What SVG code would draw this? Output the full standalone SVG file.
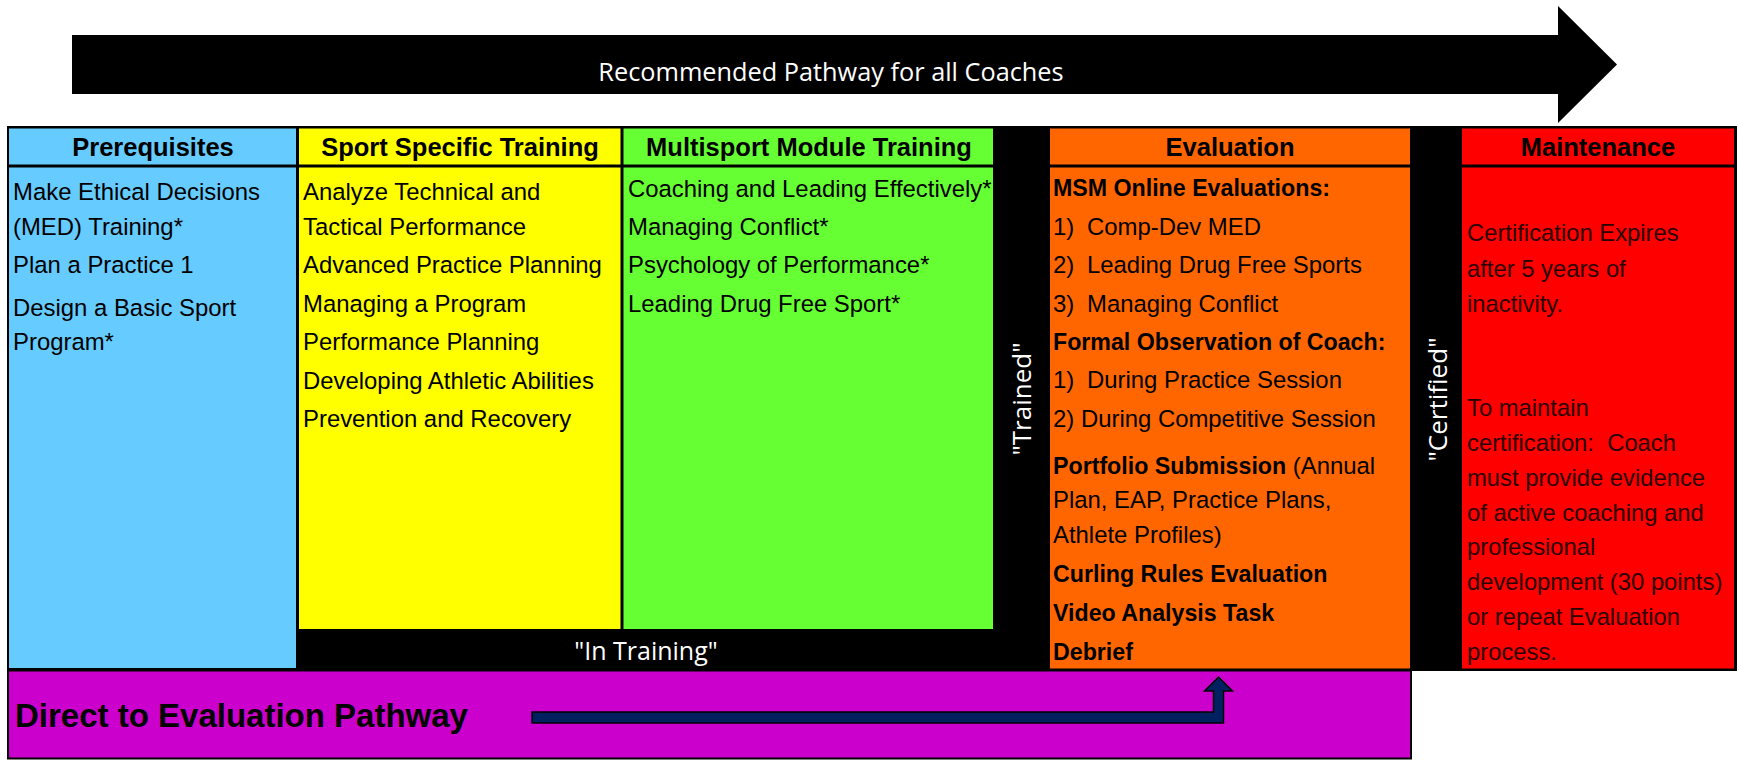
<svg xmlns="http://www.w3.org/2000/svg" width="1739" height="760" viewBox="0 0 1739 760">
<style>
.hd{font-family:"Liberation Sans",Arial,sans-serif;font-weight:bold;font-size:25.5px;fill:#000;text-anchor:middle}
.bd{font-family:"Liberation Sans",Arial,sans-serif;font-size:23.9px;fill:#000}
.bb{font-family:"Liberation Sans",Arial,sans-serif;font-size:23.2px;font-weight:bold;fill:#000}
.mt{font-family:"Liberation Sans",Arial,sans-serif;font-size:23.8px;fill:#2a0000}
.wt{font-family:"Open Sans","Liberation Sans",sans-serif;fill:#fff;text-anchor:middle}
</style>
<rect width="1739" height="760" fill="#fff"/>
<g id="pathway-arrow">
<polygon points="72,35 1558,35 1558,6 1617,64.5 1558,123 1558,94 72,94" fill="#000"/>
<text class="wt" x="831" y="80.5" font-size="25.3">Recommended Pathway for all Coaches</text>
</g>
<g id="frame">
<rect x="7" y="126" width="1730" height="545" fill="#000"/>
</g>
<g id="prerequisites">
<rect x="9" y="128.5" width="287" height="36" fill="#66CCFF"/>
<rect x="9" y="167.5" width="287" height="500.5" fill="#66CCFF"/>
<text class="hd" x="153" y="156">Prerequisites</text>
<text class="bd" x="13" y="200">Make Ethical Decisions</text>
<text class="bd" x="13" y="234.5">(MED) Training*</text>
<text class="bd" x="13" y="273">Plan a Practice 1</text>
<text class="bd" x="13" y="315.5">Design a Basic Sport</text>
<text class="bd" x="13" y="350">Program*</text>
</g>
<g id="sport-specific">
<rect x="299" y="128.5" width="321.5" height="36" fill="#FFFF00"/>
<rect x="299" y="167.5" width="321.5" height="461.5" fill="#FFFF00"/>
<text class="hd" x="460" y="156">Sport Specific Training</text>
<text class="bd" x="303" y="200">Analyze Technical and</text>
<text class="bd" x="303" y="234.5">Tactical Performance</text>
<text class="bd" x="303" y="273">Advanced Practice Planning</text>
<text class="bd" x="303" y="311.5">Managing a Program</text>
<text class="bd" x="303" y="350">Performance Planning</text>
<text class="bd" x="303" y="388.5">Developing Athletic Abilities</text>
<text class="bd" x="303" y="427">Prevention and Recovery</text>
</g>
<g id="multisport">
<rect x="623.5" y="128.5" width="369.5" height="36" fill="#66FF33"/>
<rect x="623.5" y="167.5" width="369.5" height="461.5" fill="#66FF33"/>
<text class="hd" x="809" y="156">Multisport Module Training</text>
<text class="bd" x="628" y="197">Coaching and Leading Effectively*</text>
<text class="bd" x="628" y="235">Managing Conflict*</text>
<text class="bd" x="628" y="273">Psychology of Performance*</text>
<text class="bd" x="628" y="312">Leading Drug Free Sport*</text>
</g>
<g id="in-training">
<text class="wt" x="646" y="660" font-size="25">"In Training"</text>
</g>
<g id="trained">
<text class="wt" font-size="26" transform="translate(1031,399) rotate(-90)">"Trained"</text>
</g>
<g id="evaluation">
<rect x="1050" y="128.5" width="360" height="36" fill="#FF6600"/>
<rect x="1050" y="167.5" width="360" height="501" fill="#FF6600"/>
<text class="hd" x="1230" y="156">Evaluation</text>
<text class="bb" x="1053" y="196">MSM Online Evaluations:</text>
<text class="bd" x="1053" y="235">1)<tspan x="1087">Comp-Dev MED</tspan></text>
<text class="bd" x="1053" y="273">2)<tspan x="1087">Leading Drug Free Sports</tspan></text>
<text class="bd" x="1053" y="312">3)<tspan x="1087">Managing Conflict</tspan></text>
<text class="bb" x="1053" y="350">Formal Observation of Coach:</text>
<text class="bd" x="1053" y="388">1)<tspan x="1087">During Practice Session</tspan></text>
<text class="bd" x="1053" y="427">2) During Competitive Session</text>
<text class="bd" x="1053" y="474"><tspan font-weight="bold" font-size="23.2">Portfolio Submission</tspan> (Annual</text>
<text class="bd" x="1053" y="508">Plan, EAP, Practice Plans,</text>
<text class="bd" x="1053" y="543">Athlete Profiles)</text>
<text class="bb" x="1053" y="582">Curling Rules Evaluation</text>
<text class="bb" x="1053" y="621">Video Analysis Task</text>
<text class="bb" x="1053" y="660">Debrief</text>
</g>
<g id="certified">
<text class="wt" font-size="26" transform="translate(1447,399.5) rotate(-90)">"Certified"</text>
</g>
<g id="maintenance">
<rect x="1462" y="128.5" width="272" height="36" fill="#FF0000"/>
<rect x="1462" y="167.5" width="272" height="501" fill="#FF0000"/>
<text class="hd" x="1598" y="156">Maintenance</text>
<text class="mt" x="1467" y="241">Certification Expires</text>
<text class="mt" x="1467" y="277">after 5 years of</text>
<text class="mt" x="1467" y="312">inactivity.</text>
<text class="mt" x="1467" y="416">To maintain</text>
<text class="mt" x="1467" y="451" xml:space="preserve">certification:  Coach</text>
<text class="mt" x="1467" y="486">must provide evidence</text>
<text class="mt" x="1467" y="521">of active coaching and</text>
<text class="mt" x="1467" y="555">professional</text>
<text class="mt" x="1467" y="590">development (30 points)</text>
<text class="mt" x="1467" y="625">or repeat Evaluation</text>
<text class="mt" x="1467" y="660">process.</text>
</g>
<g id="direct-pathway">
<rect x="8" y="670.5" width="1403" height="88" fill="#CC00CC" stroke="#000" stroke-width="2"/>
<text x="15" y="727" font-family="Liberation Sans, Arial, sans-serif" font-weight="bold" font-size="33" fill="#000">Direct to Evaluation Pathway</text>
</g>
<g id="connectors">
<polygon points="532,712 1213.5,712 1213.5,691 1204.5,691 1218.5,677 1232.5,691 1223.5,691 1223.5,723 532,723" fill="#002060" stroke="#000" stroke-width="1.5" stroke-linejoin="miter"/>
</g>
</svg>
